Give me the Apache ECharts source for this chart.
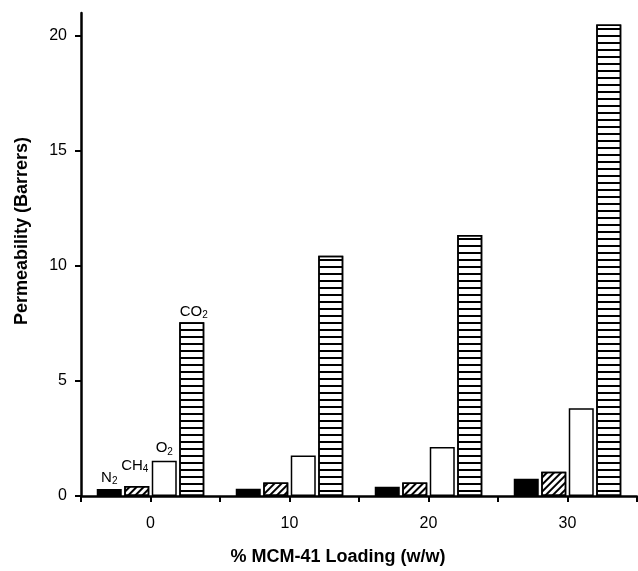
<!DOCTYPE html>
<html>
<head>
<meta charset="utf-8">
<script src="https://cdn.jsdelivr.net/npm/echarts@6/dist/echarts.min.js"></script>
<style>
html,body{margin:0;padding:0;background:#fff;}
#chart{width:638px;height:571px;}
</style>
</head>
<body>
<div id="chart"></div>
<script>
// ---- data ----
var loadings = [0, 10, 20, 30];            // % MCM-41 loading (w/w)
var n2  = [0.30, 0.32, 0.40, 0.75];
var ch4 = [0.43, 0.59, 0.59, 1.05];
var o2  = [1.53, 1.76, 2.13, 3.81];
var co2 = [7.55, 10.45, 11.35, 20.5];
var xTickValues = [-5, 0, 5, 10, 15, 20, 25, 30, 35];
var xLabelValues = [0, 10, 20, 30];
var yTickValues = [0, 5, 10, 15, 20];
var seriesNames = ['N2', 'CH4', 'O2', 'CO2'];
var seriesLabels = ['{a|N}{b|2}', '{a|CH}{b|4}', '{a|O}{b|2}', '{a|CO}{b|2}'];

var FONT = 'Liberation Sans, Arial, sans-serif';
var rich = {
  a: {fontSize: 15, fontFamily: FONT, color: '#000', lineHeight: 16, verticalAlign: 'top'},
  b: {fontSize: 10, fontFamily: FONT, color: '#000', lineHeight: 12, verticalAlign: 'bottom', padding: [9, 0, 0, 0]}
};
var labelDist = [3, 12, 4, 2];
var labelOffset = [[0, 0], [-2, 0], [0, 0], [2, 0]];

function build(values, idx) {
  return values.map(function (v, i) {
    var item = {value: [loadings[i], v]};
    if (i === 0) {
      item.label = {
        show: true, position: 'top', distance: labelDist[idx], offset: labelOffset[idx],
        fontSize: 15, fontFamily: FONT,
        formatter: seriesLabels[idx], rich: rich
      };
    }
    return item;
  });
}

var styles = [
  {color: '#000', borderColor: '#000', borderWidth: 1.5},
  {color: '#fff', borderColor: '#000', borderWidth: 1.5,
   decal: {symbol: 'rect', symbolSize: 1, color: '#000', dashArrayX: [1, 0], dashArrayY: [2, 3], rotation: -Math.PI / 4}},
  {color: '#fff', borderColor: '#000', borderWidth: 1.5},
  {color: '#fff', borderColor: '#000', borderWidth: 1.5,
   decal: {symbol: 'rect', symbolSize: 1, color: '#000', dashArrayX: [1, 0], dashArrayY: [2, 4.3], rotation: 0}}
];
var allData = [n2, ch4, o2, co2];

var chart = echarts.init(document.getElementById('chart'), null, {renderer: 'canvas'});
chart.setOption({
  animation: false,
  aria: {enabled: false},
  backgroundColor: '#fff',
  grid: {left: 81, right: 1, top: 13, bottom: 73},
  xAxis: {
    type: 'value', min: -5, max: 35,
    name: '% MCM-41 Loading (w/w)', nameLocation: 'middle', nameGap: 52,
    nameTextStyle: {fontFamily: FONT, fontSize: 18, fontWeight: 'bold', color: '#000', padding: [0, 42, 0, 0]},
    axisLine: {show: true, onZero: false, lineStyle: {color: '#000', width: 2.5}},
    axisTick: {show: true, length: 6, lineStyle: {color: '#000', width: 2}, customValues: xTickValues},
    axisLabel: {fontFamily: FONT, fontSize: 16, color: '#000', margin: 20, customValues: xLabelValues},
    splitLine: {show: false}
  },
  yAxis: {
    type: 'value', min: 0, max: 21,
    name: 'Permeability (Barrers)', nameLocation: 'middle', nameGap: 50,
    nameTextStyle: {fontFamily: FONT, fontSize: 18, fontWeight: 'bold', color: '#000', padding: [0, 0, 0, 47]},
    axisLine: {show: true, onZero: false, lineStyle: {color: '#000', width: 2.5}},
    axisTick: {show: true, length: 6, lineStyle: {color: '#000', width: 2}, customValues: yTickValues},
    axisLabel: {fontFamily: FONT, fontSize: 16, color: '#000', margin: 14, customValues: yTickValues},
    splitLine: {show: false}
  },
  series: allData.map(function (vals, k) {
    return {
      type: 'bar', name: seriesNames[k],
      barWidth: 25, barGap: '10%',
      itemStyle: styles[k],
      data: build(vals, k)
    };
  })
});
</script>
</body>
</html>
